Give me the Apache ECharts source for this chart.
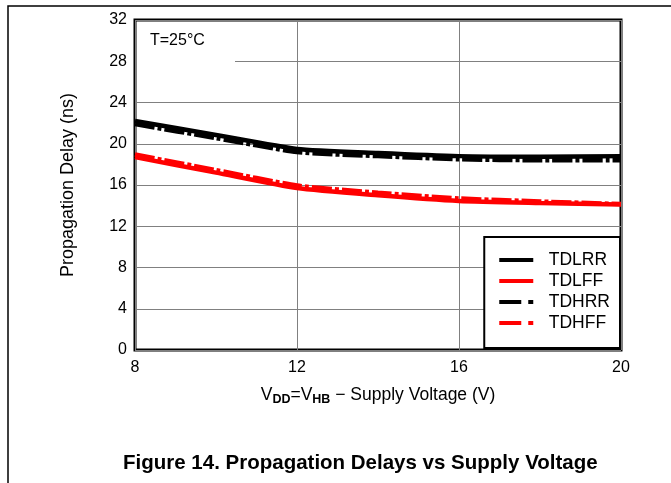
<!DOCTYPE html>
<html lang="en">
<head>
  <meta charset="UTF-8">
  <title>Propagation Delays vs Supply Voltage</title>
  <script src="https://cdn.jsdelivr.net/npm/echarts@6/dist/echarts.min.js"></script>
  <style>
    html, body { margin: 0; padding: 0; background: #fff; }
  </style>
</head>
<body>
<div id="main" style="width:671px;height:483px;"></div>
<script>
  // supply voltage (V)
  const voltage = [8, 10, 12, 14, 16, 18, 20];
  // delays (ns)
  const tdlrr = [22.2, 20.85, 19.5, 19.1, 18.8, 18.75, 18.8];
  const tdlff = [18.7, 17.2, 15.7, 15.0, 14.45, 14.25, 14.1];
  const tdhrr = [21.9, 20.55, 19.2, 18.8, 18.5, 18.4, 18.4];
  const tdhff = [18.95, 17.45, 15.95, 15.25, 14.7, 14.4, 14.15];
  const seriesNames = ['TDLRR', 'TDLFF', 'TDHRR', 'TDHFF'];

  const font = 'Arial, "Liberation Sans", sans-serif';
  const dashDot = [20, 3, 4, 3];
  const solidIcon = 'path://M0,0H34V4H0Z';
  const dashIcon = 'path://M0,0H22V4H0Z M29,0H34V4H29Z';

  function pairs(ys) {
    return voltage.map((x, i) => [x, ys[i]]);
  }

  function line(name, ys, color, dashed) {
    return {
      name: name,
      type: 'line',
      data: pairs(ys),
      showSymbol: false,
      symbol: 'none',
      smooth: 0.2,
      z: dashed ? 3 : 2,
      lineStyle: { color: color, width: 4.5, type: dashed ? dashDot : 'solid' },
      itemStyle: { color: color }
    };
  }

  let chart = echarts.init(document.getElementById('main'));
  let option = {
    animation: false,
    textStyle: { fontFamily: font },
    grid: {
      left: 135, top: 20, right: 50, bottom: 133,
      show: true, borderColor: '#000', borderWidth: 3, backgroundColor: 'transparent'
    },
    legend: {
      data: [
        { name: 'TDLRR', icon: solidIcon },
        { name: 'TDLFF', icon: solidIcon },
        { name: 'TDHRR', icon: dashIcon },
        { name: 'TDHFF', icon: dashIcon }
      ],
      orient: 'vertical',
      right: 51, bottom: 135,
      width: 120,
      padding: [13, 10, 15, 15],
      itemGap: 1,
      itemWidth: 35,
      itemHeight: 4,
      backgroundColor: '#fff',
      borderColor: '#000',
      borderWidth: 2,
      z: 10,
      textStyle: { fontSize: 17.5, lineHeight: 20, color: '#000', fontFamily: font, padding: [0, 0, 0, 10] }
    },
    xAxis: {
      type: 'value',
      min: 8, max: 20, interval: 4,
      axisLine: { show: false },
      axisTick: { show: false },
      axisLabel: { color: '#000', fontSize: 16, margin: 10, fontFamily: font },
      splitLine: { lineStyle: { color: '#808080', width: 1 } },
      name: '{n|V}{s|DD}{n|=V}{s|HB}{n| \u2212 Supply Voltage (V)}',
      nameLocation: 'middle',
      nameGap: 34,
      nameTextStyle: {
        rich: {
          n: { fontSize: 17.5, color: '#000', fontFamily: font },
          s: { fontSize: 12.5, fontWeight: 'bold', color: '#000', fontFamily: font, verticalAlign: 'bottom', padding: [9, 0, 0, 0] }
        }
      }
    },
    yAxis: {
      type: 'value',
      min: 0, max: 32, interval: 4,
      axisLine: { show: false },
      axisTick: { show: false },
      axisLabel: { color: '#000', fontSize: 16, margin: 8, fontFamily: font },
      splitLine: { lineStyle: { color: '#808080', width: 1 } },
      name: 'Propagation Delay (ns)',
      nameLocation: 'middle',
      nameGap: 58,
      nameTextStyle: { fontSize: 18, color: '#000', fontFamily: font }
    },
    graphic: [
      // outer figure frame
      { type: 'rect', shape: { x: 8, y: 6, width: 700, height: 520 }, style: { fill: 'none', stroke: '#000', lineWidth: 1.5 }, z: 1 },
      // label box hiding the grid
      { type: 'rect', shape: { x: 137, y: 22, width: 98, height: 44 }, style: { fill: '#fff' }, z: 5 },
      { type: 'text', left: 150, top: 33, style: { text: 'T=25\u00b0C', fontSize: 16, fill: '#000', fontFamily: font }, z: 6 },
      { type: 'text', left: 123, top: 453, style: { text: 'Figure 14. Propagation Delays vs Supply Voltage', fontSize: 20.5, fontWeight: 'bold', fill: '#000', fontFamily: font }, z: 6 }
    ],
    series: [
      line('TDLRR', tdlrr, '#000', false),
      line('TDLFF', tdlff, '#ff0000', false),
      line('TDHRR', tdhrr, '#000', true),
      line('TDHFF', tdhff, '#ff0000', true)
    ]
  };
  chart.setOption(option);
</script>
</body>
</html>
